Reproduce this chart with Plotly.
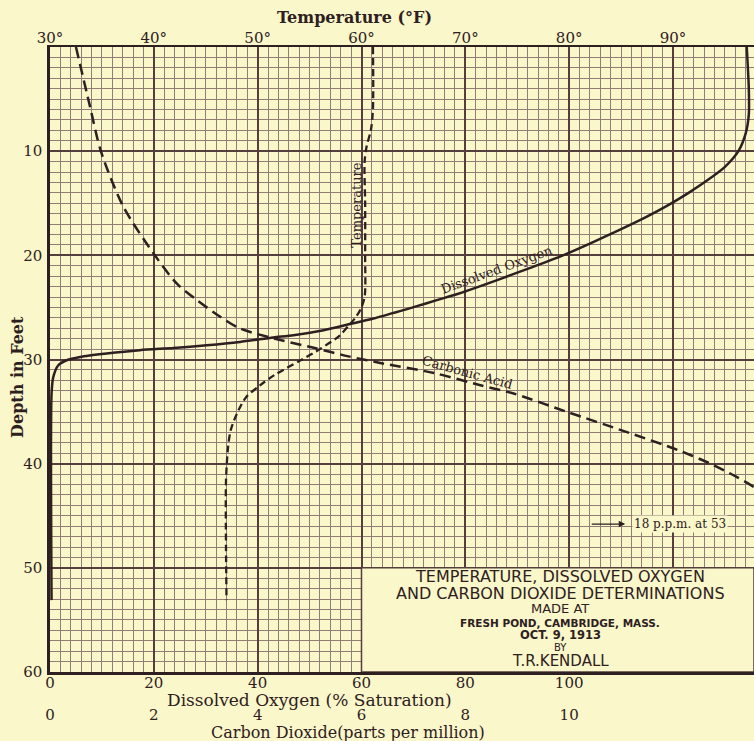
import plotly.graph_objects as go

# depth in feet
do_depth = [0, 4, 6.5, 8.3, 10, 11.5, 12.8, 14, 15.2, 16.4, 17.6, 18.8, 20, 21.2, 22.4, 23.66,
            24.3, 24.95, 25.36, 26.07, 26.6, 27.19, 27.67, 27.89, 28.31, 28.63, 28.89, 29.1,
            29.42, 29.75, 30.07, 30.55, 31.67, 33.27, 53.1]
do_pct = [134.2, 134.6, 134.6, 134.0, 132.6, 130.0, 126.6, 123.0, 119.0, 114.5, 109.5, 104.3,
          98.8, 92.5, 86.0, 78.8, 74.5, 70.2, 67.4, 62.3, 57.8, 52.7, 46.9, 43.0, 36.6, 30.2,
          23.8, 17.3, 10.9, 5.8, 3.2, 1.6, 0.64, 0.3, 0.3]

temp_depth = [0, 6, 8, 9.5, 11, 15, 20, 24, 25.2, 26, 26.7, 27.7, 29.0, 30.1, 31.5,
              32.5, 33.6, 35.2, 36.8, 38.4, 41.6, 48, 53.1]
temp_f = [61.1, 61.1, 60.9, 60.5, 60.3, 60.35, 60.35, 60.3, 59.9, 59.4, 58.8, 57.9, 56.0, 54.1, 51.6,
          50.2, 48.9, 48.0, 47.4, 47.15, 46.95, 46.95, 47.0]

co2_depth = [0, 5.7, 10, 15.3, 20, 22.7, 24.3, 25.9, 27.0, 27.9, 28.9, 29.7, 30.33, 31.3,
             32.47, 33.27, 35.03, 36.95, 38.7, 40.0, 41.2, 42.24, 43.0]
co2_ppm = [0.50, 0.77, 0.98, 1.41, 2.02, 2.44, 2.83, 3.28, 3.65, 4.25, 5.1, 5.75, 6.36, 7.4,
           8.29, 8.93, 9.96, 11.1, 12.1, 12.72, 13.2, 13.56, 13.8]

do_ticks = [0, 20, 40, 60, 80, 100, 120]
do_labels = ["0", "20", "40", "60", "80", "100", ""]
co2_ticks = [0, 2, 4, 6, 8, 10]
temp_ticks = [30, 40, 50, 60, 70, 80, 90]
temp_labels = ["30°", "40°", "50°", "60°", "70°", "80°", "90°"]
depth_ticks = [10, 20, 30, 40, 50, 60]

box_lines = ["TEMPERATURE, DISSOLVED OXYGEN",
             "AND CARBON DIOXIDE DETERMINATIONS",
             "MADE AT",
             "FRESH POND, CAMBRIDGE, MASS.",
             "OCT. 9, 1913",
             "BY",
             "T.R.KENDALL"]

bg = "#faf7cb"
ink = "#2e2020"
minor_col = "#917c76"
major_col = "#543e3e"
serif = "DejaVu Serif"
sans = "DejaVu Sans"

# graph-paper rulings (small squares between the heavy lines)
minor_x = [v for v in range(0, 136, 2) if v % 20]
minor_y = [v for v in range(0, 61) if v % 10]

fig = go.Figure()
fig.add_trace(go.Scatter(x=do_pct, y=do_depth, mode="lines", xaxis="x", yaxis="y",
                         line=dict(color=ink, width=2.5, shape="spline", smoothing=0.7)))
fig.add_trace(go.Scatter(x=temp_f, y=temp_depth, mode="lines", xaxis="x2", yaxis="y",
                         line=dict(color=ink, width=2.3, dash="7px,4px", shape="spline", smoothing=0.8)))
fig.add_trace(go.Scatter(x=co2_ppm, y=co2_depth, mode="lines", xaxis="x3", yaxis="y",
                         line=dict(color=ink, width=2.5, dash="11px,6px", shape="spline", smoothing=0.8)))

tickfont = dict(family=serif, size=15, color=ink)

fig.update_layout(
    width=754, height=741,
    margin=dict(l=50, r=0, t=47, b=69),
    paper_bgcolor=bg, plot_bgcolor=bg,
    showlegend=False,
    xaxis=dict(range=[0, 135.6], tickmode="array", tickvals=do_ticks, ticktext=do_labels,
               showgrid=True, gridcolor=major_col, gridwidth=1.5, zeroline=False,
               minor=dict(tickmode="array", tickvals=minor_x, showgrid=True,
                          gridcolor=minor_col, gridwidth=1, ticks=""),
               showline=True, linecolor=ink, linewidth=3, ticks="",
               tickfont=tickfont, ticklabelstandoff=-5),
    xaxis2=dict(range=[30, 97.8], overlaying="x", side="top", anchor="y",
                tickmode="array", tickvals=temp_ticks, ticktext=temp_labels,
                showgrid=False, zeroline=False, showline=True, linecolor=ink, linewidth=2,
                ticks="", tickfont=tickfont, ticklabelstandoff=-4),
    xaxis3=dict(range=[0, 13.56], overlaying="x", side="bottom", anchor="y",
                tickmode="array", tickvals=co2_ticks,
                showgrid=False, zeroline=False, showline=False, ticks="",
                tickfont=tickfont, ticklabelstandoff=32),
    yaxis=dict(range=[60, 0], tickmode="array", tickvals=depth_ticks,
               showgrid=True, gridcolor=major_col, gridwidth=1.5, zeroline=False,
               minor=dict(tickmode="array", tickvals=minor_y, showgrid=True,
                          gridcolor=minor_col, gridwidth=1, ticks=""),
               showline=True, linecolor=ink, linewidth=2.5, ticks="",
               tickfont=tickfont, ticklabelstandoff=2),
)

# blank panel holding the caption
fig.add_shape(type="rect", xref="x", yref="y", x0=60, x1=135.6, y0=50, y1=60,
              fillcolor=bg, line=dict(color=major_col, width=1.5), layer="between")

box_y = [50.8, 52.45, 53.9, 55.3, 56.4, 57.6, 58.9]
box_size = [16, 16, 13, 10.5, 11.5, 10, 15]
box_bold = [False, False, False, True, True, False, False]
for txt, yy, sz, bd in zip(box_lines, box_y, box_size, box_bold):
    fig.add_annotation(x=98.3, y=yy, xref="x", yref="y", text=txt, showarrow=False,
                       yanchor="middle",
                       font=dict(family=sans, size=sz, color=ink,
                                 weight="bold" if bd else "normal"))

# curve labels
fig.add_annotation(x=86.1, y=21.4, xref="x", yref="y", text="Dissolved Oxygen",
                   textangle=-20, showarrow=False, font=dict(family=serif, size=13, color=ink))
fig.add_annotation(x=80.5, y=31.2, xref="x", yref="y", text="Carbonic Acid",
                   textangle=15.5, showarrow=False, font=dict(family=serif, size=13, color=ink))
fig.add_annotation(x=59.0, y=15.2, xref="x", yref="y", text="Temperature",
                   textangle=-90, showarrow=False, font=dict(family=serif, size=13, color=ink))

# off-scale note
fig.add_annotation(x=110.8, y=45.8, xref="x", yref="y", text="", showarrow=True,
                   ax=-35, ay=0, arrowhead=2, arrowsize=1, arrowwidth=1.3, arrowcolor=ink)
fig.add_annotation(x=112.1, y=45.8, xref="x", yref="y", text="18 p.p.m. at 53",
                   xanchor="left", yanchor="middle", showarrow=False, bgcolor=bg,
                   font=dict(family=serif, size=12, color=ink))

# axis titles
fig.add_annotation(x=0.433, y=1.047, xref="paper", yref="paper", text="<b>Temperature (°F)</b>",
                   xanchor="center", yanchor="middle", showarrow=False,
                   font=dict(family=serif, size=16, color=ink))
fig.add_annotation(x=-0.047, y=0.472, xref="paper", yref="paper", text="<b>Depth in Feet</b>",
                   xanchor="center", yanchor="middle", textangle=-90, showarrow=False,
                   font=dict(family=serif, size=16, color=ink))
fig.add_annotation(x=0.369, y=-0.0455, xref="paper", yref="paper",
                   text="Dissolved Oxygen (% Saturation)",
                   xanchor="center", yanchor="middle", showarrow=False,
                   font=dict(family=serif, size=17, color=ink))
fig.add_annotation(x=0.423, y=-0.0965, xref="paper", yref="paper",
                   text="Carbon Dioxide(parts per million)",
                   xanchor="center", yanchor="middle", showarrow=False,
                   font=dict(family=serif, size=16, color=ink))

fig.write_html("out.html", config={"displayModeBar": False},
               post_script="document.body.style.margin='0';")
